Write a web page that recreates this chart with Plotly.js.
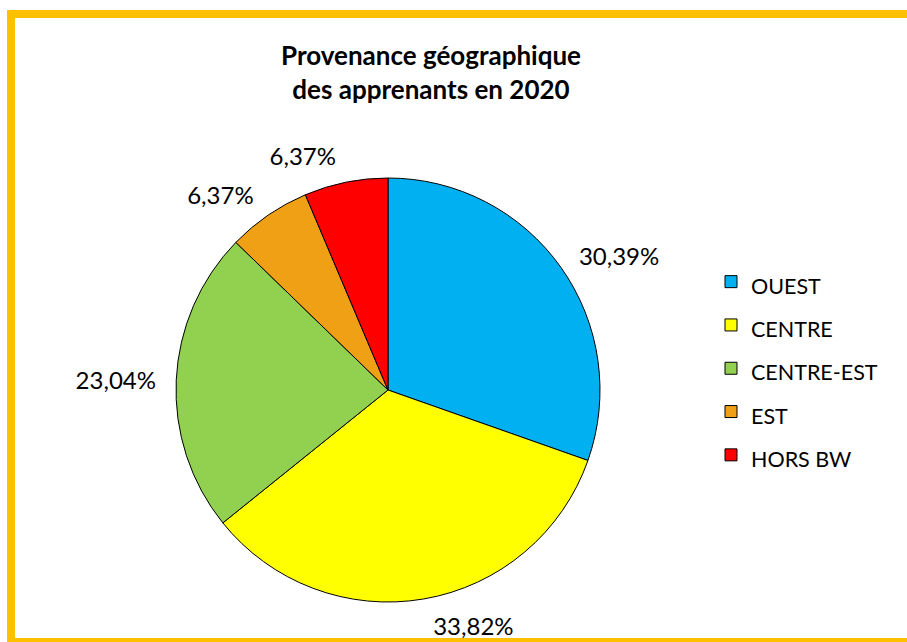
<!DOCTYPE html>
<html>
<head>
<meta charset="utf-8">
<script src="https://cdn.plot.ly/plotly-3.0.1.min.js"></script>
<style>html,body{margin:0;padding:0;background:#fff;} #chart{width:907px;height:642px;}</style>
</head>
<body>
<div id="chart"></div>
<script>
var categories = ["OUEST", "CENTRE", "CENTRE-EST", "EST", "HORS BW"];
var values = [30.39, 33.82, 23.04, 6.37, 6.37];
var colors = ["#00B0F0", "#FFFF00", "#92D050", "#F0A014", "#FF0000"];
var titleLines = ["Provenance géographique", "des apprenants en 2020"];

var W = 907, H = 642;
var cx = 388, cy = 390, R = 212, labelGap = 13;
var FONT = "Lato, 'Open Sans', sans-serif";

function domainFor(r) {
  return {
    x: [(cx - r) / W, (cx + r) / W],
    y: [(H - cy - r) / H, (H - cy + r) / H]
  };
}

var legendLabels = categories.map(function (c) {
  return '<span style="font-size:21.5px">' + c + '</span>';
});

var pie = {
  type: "pie",
  labels: legendLabels,
  values: values,
  sort: false,
  direction: "clockwise",
  rotation: 0,
  marker: { colors: colors, line: { color: "#000000", width: 1 } },
  textinfo: "none",
  hoverinfo: "none",
  domain: domainFor(R)
};

// transparent companion pie, slightly larger, carrying the outside percentage labels
var labelsPie = {
  type: "pie",
  labels: legendLabels,
  values: values,
  sort: false,
  direction: "clockwise",
  rotation: 0,
  showlegend: false,
  marker: { colors: categories.map(function () { return "rgba(0,0,0,0)"; }), line: { width: 0 } },
  textposition: "outside",
  texttemplate: "%{value:.2f}%",
  textfont: { family: FONT, size: 24, color: "#000" },
  hoverinfo: "none",
  domain: domainFor(R + labelGap)
};

var layout = {
  width: W,
  height: H,
  margin: { l: 0, r: 0, t: 0, b: 0 },
  paper_bgcolor: "#ffffff",
  separators: ", ",
  font: { family: FONT, color: "#000" },
  title: {
    text: "<b>" + titleLines.join("<br>") + "</b>",
    font: { size: 26, family: FONT, color: "#000" },
    x: 431 / W,
    xanchor: "center",
    y: 1 - 65 / H,
    yanchor: "middle",
    xref: "paper",
    yref: "container"
  },
  showlegend: true,
  legend: {
    x: 711 / W,
    y: 1 - 255 / H,
    xanchor: "left",
    yanchor: "top",
    font: { size: 31, family: FONT, color: "#000" },
    bgcolor: "rgba(0,0,0,0)",
    itemclick: false
  },
  shapes: [{
    type: "rect",
    xref: "paper", yref: "paper",
    x0: 11 / W, x1: 925 / W,
    y0: 0, y1: (H - 14) / H,
    line: { color: "#FFC000", width: 8 },
    fillcolor: "rgba(0,0,0,0)",
    layer: "below"
  }]
};

Plotly.newPlot("chart", [pie, labelsPie], layout, { staticPlot: true, displayModeBar: false });
</script>
</body>
</html>
